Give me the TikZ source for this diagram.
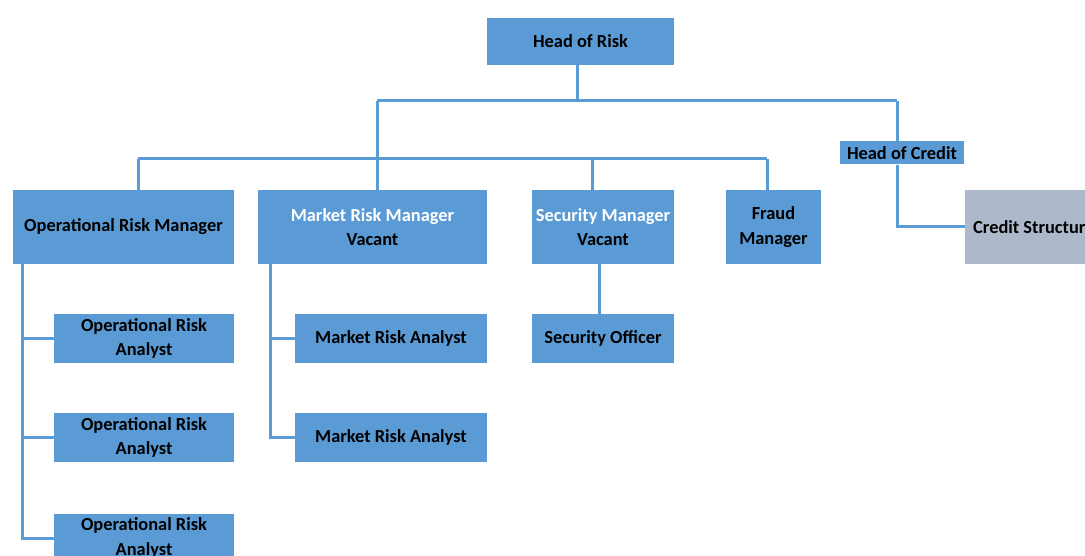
\documentclass[tikz,border=0pt]{standalone}
\usepackage{fontspec}
\setmainfont{Carlito}
\definecolor{boxblue}{HTML}{5B9BD5}
\definecolor{boxgray}{HTML}{ADB9CA}
\begin{document}
\begin{tikzpicture}[x=1pt,y=-1pt,
  box/.style={fill=boxblue, draw=none, inner sep=0pt, align=center,
    font=\fontsize{18.4}{24.5}\selectfont\bfseries, text=black},
  conn/.style={draw=boxblue, line width=3pt}]
\useasboundingbox (0,0) rectangle (1085,556);
\clip (0,0) rectangle (1085,556);
% nodes
\node[box, minimum width=187pt, minimum height=47pt] (hr) at (580.5,41.5) {Head of Risk};
\node[box, minimum width=124pt, minimum height=23pt] (hc) at (902,153) {Head of Credit};
\node[box, fill=boxgray, minimum height=74pt, anchor=west] (cs) at (965,227) {\hspace*{8pt}Credit Structure\hspace*{60pt}};
\node[box, minimum width=221pt, minimum height=74pt] (orm) at (123.5,227) {Operational Risk Manager};
\node[box, minimum width=229pt, minimum height=74pt] (mrm) at (372.5,227) {\textcolor{white}{Market Risk Manager}\\Vacant};
\node[box, minimum width=142pt, minimum height=74pt] (sm) at (603,227) {\textcolor{white}{Security Manager}\\Vacant};
\node[box, minimum width=95pt, minimum height=74pt] (fm) at (773.5,227) {Fraud\\Manager};
\node[box, minimum width=180pt, minimum height=49pt] (ora1) at (144,338.5) {Operational Risk\\Analyst};
\node[box, minimum width=180pt, minimum height=49pt] (ora2) at (144,437.5) {Operational Risk\\Analyst};
\node[box, minimum width=180pt, minimum height=49pt] (ora3) at (144,538) {Operational Risk\\Analyst};
\node[box, minimum width=192pt, minimum height=49pt] (mra1) at (391,338.5) {Market Risk Analyst};
\node[box, minimum width=192pt, minimum height=49pt] (mra2) at (391,437.5) {Market Risk Analyst};
\node[box, minimum width=142pt, minimum height=49pt] (so) at (603,338.5) {Security Officer};
% bus coordinates
\coordinate (b1) at (577,101);
\coordinate (bL) at (377,101);
\coordinate (bR) at (897,101);
\coordinate (c1) at (138,159);
\coordinate (c2) at (767,159);
\coordinate (oL) at (22,263);
\coordinate (mL) at (270,263);
% connectors
\draw[conn] (b1 |- hr.south) -- (b1);
\draw[conn] (bL) -- (bR);
\draw[conn] (bL) -- (bL |- mrm.north);
\draw[conn] (c1) -- (c2);
\draw[conn] (c1) -- (c1 |- orm.north);
\draw[conn] (592,159) -- (592,190);
\draw[conn] (c2) -- (c2 |- fm.north);
\draw[conn] (bR) -- (bR |- hc.north);
\draw[conn] (bR |- hc.south) |- (cs.west);
\draw[conn] (oL) |- (ora3.west);
\draw[conn] (oL |- ora1.west) -- (ora1.west);
\draw[conn] (oL |- ora2.west) -- (ora2.west);
\draw[conn] (mL) |- (mra2.west);
\draw[conn] (mL |- mra1.west) -- (mra1.west);
\draw[conn] (599,263) -- (599,314);
\end{tikzpicture}
\end{document}
